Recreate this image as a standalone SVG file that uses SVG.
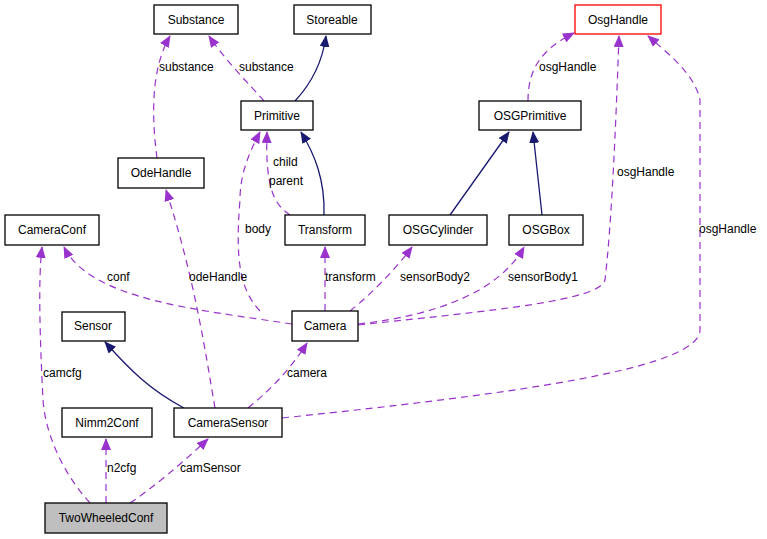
<svg xmlns="http://www.w3.org/2000/svg" width="767" height="539" viewBox="0 0 767 539">
<style>
.n rect{fill:#fff;stroke:#000;stroke-width:1.3}
text{font-family:"Liberation Sans",Arial,sans-serif;font-size:12px;fill:#000}
.n text{text-anchor:middle}
.d{fill:none;stroke:#9a32cd;stroke-width:1.2;stroke-dasharray:7,5}
.s{fill:none;stroke:#191970;stroke-width:1.3}
</style>
<defs>
<marker id="ap" markerWidth="12" markerHeight="10" refX="11" refY="5" orient="auto" markerUnits="userSpaceOnUse"><path d="M0,0L12,5L0,10z" fill="#9a32cd"/></marker>
<marker id="ab" markerWidth="12" markerHeight="10" refX="11" refY="5" orient="auto" markerUnits="userSpaceOnUse"><path d="M0,0L12,5L0,10z" fill="#191970"/></marker>
</defs>
<rect width="767" height="539" fill="#fff"/>
<g id="edges">
<path class="d" marker-end="url(#ap)" d="M157,158 C152,120 150,70 170,36"/>
<path class="d" marker-end="url(#ap)" d="M264,101 C250,85 225,60 209,36"/>
<path class="s" marker-end="url(#ab)" d="M295,101 C310,85 322,65 326,36"/>
<path class="d" marker-end="url(#ap)" d="M290,215 C275,205 265,190 267,132"/>
<path class="s" marker-end="url(#ab)" d="M324,215 C325,180 315,155 301,132"/>
<path class="d" marker-end="url(#ap)" d="M260,311 C240,290 235,260 240,200 C240,175 248,155 260,132"/>
<path class="d" marker-end="url(#ap)" d="M215,408 C205,350 195,280 166,190"/>
<path class="d" marker-end="url(#ap)" d="M292,324 C200,310 90,300 64,247"/>
<path class="d" marker-end="url(#ap)" d="M325,311 L325,247"/>
<path class="d" marker-end="url(#ap)" d="M350,311 C370,295 395,270 412,247"/>
<path class="d" marker-end="url(#ap)" d="M358,324 C440,315 500,290 524,247"/>
<path class="d" marker-end="url(#ap)" d="M358,325 C500,310 600,300 605,280 C612,220 616,120 619,36"/>
<path class="d" marker-end="url(#ap)" d="M528,101 C528,70 540,50 574,33"/>
<path class="s" marker-end="url(#ab)" d="M450,215 L509,132"/>
<path class="s" marker-end="url(#ab)" d="M542,215 L533,132"/>
<path class="d" marker-end="url(#ap)" d="M282,418 C500,395 700,370 700,330 L700,100 C695,75 670,55 648,36"/>
<path class="s" marker-end="url(#ab)" d="M184,408 C150,390 130,370 105,342"/>
<path class="d" marker-end="url(#ap)" d="M248,408 C270,390 290,370 307,343"/>
<path class="d" marker-end="url(#ap)" d="M90,503 C60,470 45,430 43,400 C40,340 38,280 42,247"/>
<path class="d" marker-end="url(#ap)" d="M106,503 L106,439"/>
<path class="d" marker-end="url(#ap)" d="M130,503 C150,490 180,465 208,439"/>
</g>
<g id="labels">
<text x="159" y="71">substance</text>
<text x="239" y="71">substance</text>
<text x="273" y="166">child</text>
<text x="269" y="185">parent</text>
<text x="245" y="233">body</text>
<text x="189" y="281">odeHandle</text>
<text x="107" y="281">conf</text>
<text x="325" y="281">transform</text>
<text x="400" y="281">sensorBody2</text>
<text x="508" y="281">sensorBody1</text>
<text x="539" y="71">osgHandle</text>
<text x="617" y="176">osgHandle</text>
<text x="699" y="233">osgHandle</text>
<text x="43" y="377">camcfg</text>
<text x="287" y="377">camera</text>
<text x="107" y="472">n2cfg</text>
<text x="180" y="472">camSensor</text>
</g>
<g id="Substance" class="n"><rect x="154" y="5" width="84" height="29"/><text x="196" y="24">Substance</text></g>
<g id="Storeable" class="n"><rect x="294" y="5" width="77" height="29"/><text x="332" y="24">Storeable</text></g>
<g id="Primitive" class="n"><rect x="241" y="101" width="72" height="29"/><text x="277" y="120">Primitive</text></g>
<g id="OdeHandle" class="n"><rect x="118" y="158" width="86" height="30"/><text x="161" y="177">OdeHandle</text></g>
<g id="CameraConf" class="n"><rect x="5" y="215" width="94" height="30"/><text x="52" y="234">CameraConf</text></g>
<g id="Transform" class="n"><rect x="285" y="215" width="80" height="30"/><text x="325" y="234">Transform</text></g>
<g id="OsgHandle" class="n"><rect x="575" y="5" width="86" height="29" style="stroke:#f00"/><text x="618" y="24">OsgHandle</text></g>
<g id="OSGPrimitive" class="n"><rect x="479" y="101" width="102" height="29"/><text x="530" y="120">OSGPrimitive</text></g>
<g id="OSGCylinder" class="n"><rect x="389" y="215" width="98" height="30"/><text x="438" y="234">OSGCylinder</text></g>
<g id="OSGBox" class="n"><rect x="509" y="215" width="74" height="30"/><text x="546" y="234">OSGBox</text></g>
<g id="Camera" class="n"><rect x="292" y="311" width="66" height="30"/><text x="325" y="330">Camera</text></g>
<g id="Sensor" class="n"><rect x="62" y="312" width="63" height="29"/><text x="93" y="330">Sensor</text></g>
<g id="Nimm2Conf" class="n"><rect x="62" y="408" width="90" height="29"/><text x="107" y="427">Nimm2Conf</text></g>
<g id="CameraSensor" class="n"><rect x="174" y="408" width="108" height="29"/><text x="228" y="427">CameraSensor</text></g>
<g id="TwoWheeledConf" class="n"><rect x="45" y="503" width="122" height="30" style="fill:#bfbfbf"/><text x="106" y="522">TwoWheeledConf</text></g>
</svg>
